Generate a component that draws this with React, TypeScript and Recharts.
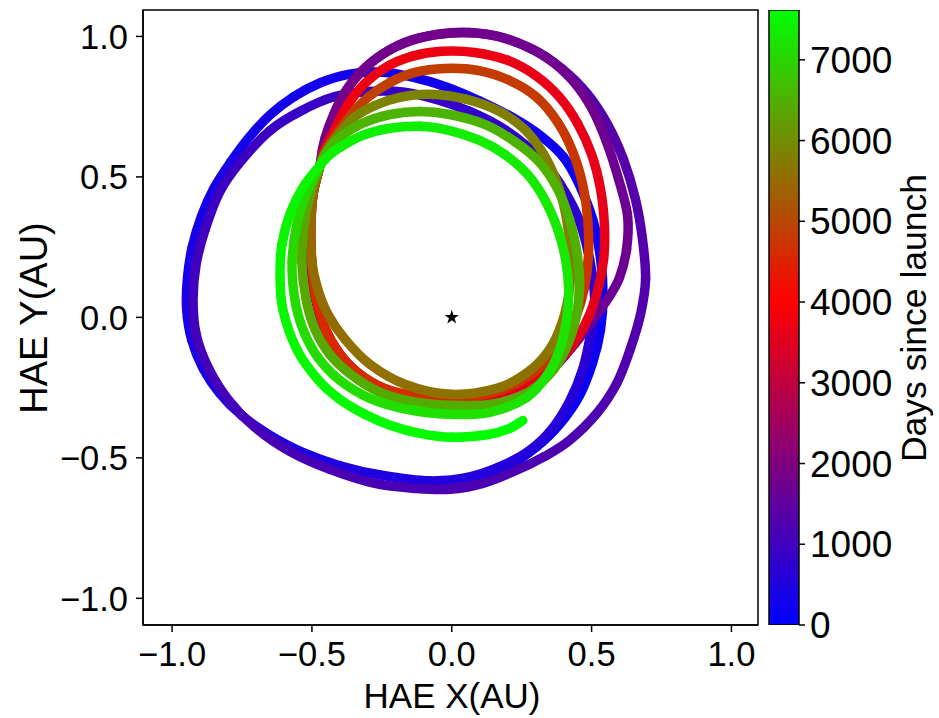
import React from 'react';
import { ComposedChart, Line, Scatter, XAxis, YAxis, ReferenceArea, BarChart, Bar } from 'recharts';

const FONT = '"Liberation Sans", Arial, Helvetica, sans-serif';

// HAE position (AU) traced along the trajectory, oldest first.
// Each track is one visible loop; loops that repeat on top of each other are drawn once.
const trackA = [
  [0.0, -0.59], [0.11, -0.575], [0.21, -0.525], [0.304, -0.46], [0.386, -0.38], [0.457, -0.278],
  [0.504, -0.16], [0.532, -0.043], [0.541, 0.08], [0.532, 0.21], [0.505, 0.345], [0.455, 0.475],
  [0.4, 0.57], [0.32, 0.645], [0.22, 0.71], [0.1, 0.77], [-0.02, 0.82], [-0.14, 0.855],
  [-0.26, 0.873], [-0.37, 0.865], [-0.47, 0.835], [-0.565, 0.785], [-0.65, 0.72], [-0.725, 0.64],
  [-0.79, 0.553], [-0.85, 0.46], [-0.895, 0.36], [-0.928, 0.25], [-0.945, 0.14], [-0.948, 0.03],
  [-0.93, -0.08], [-0.89, -0.18], [-0.83, -0.27], [-0.75, -0.35], [-0.65, -0.42], [-0.535, -0.48],
  [-0.4, -0.528], [-0.25, -0.562], [-0.079, -0.582],
];
const trackB = [
  [-0.079, -0.582], [0.064, -0.568], [0.182, -0.527], [0.279, -0.473], [0.357, -0.399], [0.421, -0.299],
  [0.468, -0.185], [0.496, -0.06], [0.511, 0.064], [0.493, 0.206], [0.457, 0.342], [0.404, 0.448],
  [0.339, 0.541], [0.261, 0.616], [0.171, 0.68], [0.064, 0.733], [-0.043, 0.772], [-0.168, 0.801],
  [-0.293, 0.804], [-0.418, 0.786], [-0.543, 0.733], [-0.65, 0.665], [-0.757, 0.552], [-0.829, 0.448],
  [-0.882, 0.313], [-0.914, 0.189], [-0.925, 0.064], [-0.914, -0.06], [-0.871, -0.178], [-0.8, -0.292],
  [-0.704, -0.391], [-0.579, -0.477], [-0.436, -0.541],
];
const trackC = [
  [-0.436, -0.541], [-0.275, -0.591], [-0.125, -0.609], [-0.007, -0.612], [0.111, -0.591], [0.232, -0.544],
  [0.332, -0.495], [0.421, -0.438], [0.52, -0.34], [0.59, -0.235], [0.638, -0.114], [0.675, 0.011],
  [0.693, 0.135], [0.682, 0.278], [0.657, 0.42], [0.614, 0.562], [0.557, 0.687], [0.486, 0.794],
  [0.396, 0.883], [0.296, 0.95], [0.182, 0.996], [0.064, 1.014], [-0.054, 1.007], [-0.168, 0.979],
  [-0.264, 0.925], [-0.343, 0.854], [-0.4, 0.769], [-0.439, 0.676], [-0.461, 0.605], [-0.471, 0.541],
];
const trackD = [
  [-0.471, 0.541], [-0.496, 0.438], [-0.507, 0.313], [-0.504, 0.189], [-0.489, 0.071], [-0.457, -0.036],
  [-0.4, -0.132], [-0.321, -0.21], [-0.221, -0.27], [-0.096, -0.306], [0.029, -0.324], [0.154, -0.317],
  [0.268, -0.274], [0.361, -0.185], [0.439, -0.096], [0.511, 0.0], [0.564, 0.075], [0.6, 0.142],
  [0.625, 0.242], [0.629, 0.359], [0.6, 0.48], [0.554, 0.623], [0.5, 0.745], [0.43, 0.845],
  [0.34, 0.925], [0.235, 0.978], [0.122, 1.008], [0.0, 1.012], [-0.112, 0.995], [-0.216, 0.955],
  [-0.305, 0.892], [-0.374, 0.812], [-0.421, 0.724], [-0.452, 0.64], [-0.471, 0.541],
];
const trackE = [
  [-0.471, 0.541], [-0.496, 0.438], [-0.504, 0.313], [-0.5, 0.189], [-0.486, 0.071], [-0.454, -0.036],
  [-0.404, -0.125], [-0.336, -0.199], [-0.239, -0.256], [-0.121, -0.288], [0.0, -0.295], [0.129, -0.281],
  [0.243, -0.246], [0.339, -0.189], [0.421, -0.114], [0.482, -0.014], [0.521, 0.093], [0.543, 0.206],
  [0.546, 0.324], [0.532, 0.456], [0.5, 0.58], [0.45, 0.69], [0.386, 0.783], [0.304, 0.858],
  [0.2, 0.915], [0.082, 0.943], [-0.036, 0.947], [-0.143, 0.929], [-0.236, 0.89], [-0.314, 0.829],
  [-0.375, 0.751], [-0.421, 0.662], [-0.454, 0.598], [-0.471, 0.541],
];
const trackF = [
  [-0.471, 0.541], [-0.496, 0.438], [-0.504, 0.313], [-0.5, 0.189], [-0.486, 0.071], [-0.454, -0.036],
  [-0.404, -0.125], [-0.336, -0.196], [-0.239, -0.253], [-0.121, -0.281], [0.0, -0.288], [0.125, -0.274],
  [0.232, -0.235], [0.321, -0.174], [0.393, -0.096], [0.443, 0.0], [0.475, 0.107], [0.489, 0.224],
  [0.486, 0.349], [0.468, 0.473], [0.432, 0.591], [0.379, 0.694], [0.304, 0.783], [0.207, 0.843],
  [0.093, 0.879], [-0.025, 0.886], [-0.132, 0.872], [-0.221, 0.836], [-0.3, 0.783], [-0.368, 0.712],
  [-0.425, 0.633], [-0.457, 0.58], [-0.471, 0.541],
];
const trackG = [
  [-0.471, 0.541], [-0.496, 0.438], [-0.504, 0.313], [-0.5, 0.196], [-0.479, 0.1], [-0.443, 0.011],
  [-0.382, -0.078], [-0.293, -0.167], [-0.168, -0.238], [-0.007, -0.274], [0.161, -0.253], [0.271, -0.196],
  [0.35, -0.114], [0.396, -0.014], [0.421, 0.1], [0.425, 0.224], [0.411, 0.349], [0.379, 0.473],
  [0.329, 0.58], [0.261, 0.669], [0.171, 0.733], [0.054, 0.776], [-0.079, 0.794], [-0.186, 0.783],
  [-0.275, 0.754], [-0.357, 0.705], [-0.418, 0.633], [-0.454, 0.58], [-0.471, 0.541],
];
const trackH = [
  [-0.471, 0.541], [-0.507, 0.438], [-0.529, 0.32], [-0.536, 0.196], [-0.521, 0.064], [-0.489, -0.043],
  [-0.436, -0.132], [-0.357, -0.206], [-0.257, -0.267], [-0.143, -0.299], [-0.007, -0.313], [0.136, -0.31],
  [0.261, -0.274], [0.35, -0.203], [0.407, -0.114], [0.443, -0.007], [0.457, 0.117], [0.446, 0.242],
  [0.421, 0.349], [0.379, 0.456], [0.314, 0.552], [0.225, 0.626], [0.118, 0.687], [-0.007, 0.722],
  [-0.114, 0.733], [-0.221, 0.722], [-0.321, 0.69], [-0.4, 0.641], [-0.446, 0.591], [-0.471, 0.541],
];
const trackI = [
  [-0.471, 0.541], [-0.518, 0.445], [-0.554, 0.331], [-0.571, 0.196], [-0.561, 0.064], [-0.532, -0.043],
  [-0.479, -0.142], [-0.4, -0.224], [-0.293, -0.288], [-0.161, -0.327], [-0.007, -0.345], [0.136, -0.338],
  [0.268, -0.285], [0.343, -0.203], [0.386, -0.114], [0.411, -0.007], [0.418, 0.1], [0.407, 0.206],
  [0.379, 0.313], [0.332, 0.42], [0.271, 0.509], [0.189, 0.58], [0.1, 0.63], [-0.007, 0.665],
  [-0.114, 0.68], [-0.221, 0.673], [-0.318, 0.648], [-0.4, 0.605], [-0.443, 0.573], [-0.471, 0.541],
];
const trackJ = [
  [-0.471, 0.541], [-0.532, 0.463], [-0.579, 0.367], [-0.607, 0.26], [-0.614, 0.153], [-0.604, 0.028],
  [-0.554, -0.114], [-0.479, -0.221], [-0.4, -0.292], [-0.311, -0.345], [-0.221, -0.384], [-0.114, -0.413],
  [0.0, -0.427], [0.136, -0.416], [0.207, -0.395], [0.254, -0.367],
];

const tracks = [trackA, trackB, trackC, trackD, trackE, trackF, trackG, trackH, trackI, trackJ];
const trackDays = [
  [120, 480], [500, 1150], [1150, 1500], [1550, 1850], [3350, 3800],
  [4500, 4950], [5450, 5950], [6350, 6600], [7050, 7450], [7450, 7617],
];

const DAY_MAX = 7617;
const RED_DAY = 4000;
const cbarTicks = [0, 1000, 2000, 3000, 4000, 5000, 6000, 7000];
const cbarData = [{ name: 'days', v: DAY_MAX }];
const axisTicks = [-1, -0.5, 0, 0.5, 1];
const sun = [{ x: 0, y: 0 }];

// blue -> red -> lime, as in the colour bar
function dayColor(d: number) {
  let r = 0, g = 0, b = 0;
  if (d <= RED_DAY) {
    const t = d / RED_DAY;
    r = 255 * t; b = 255 * (1 - t);
  } else {
    const t = Math.min(1, (d - RED_DAY) / (DAY_MAX - RED_DAY));
    r = 255 * (1 - t); g = 255 * t;
  }
  return `rgb(${Math.round(r)},${Math.round(g)},${Math.round(b)})`;
}

// Catmull-Rom through the points; the first and last point only steer the tangents,
// so neighbouring pieces join smoothly
function guidedCurve(context: any) {
  let pts: number[][] = [];
  return {
    areaStart() {},
    areaEnd() {},
    lineStart() { pts = []; },
    point(x: number, y: number) { pts.push([x, y]); },
    lineEnd() {
      const n = pts.length;
      if (n < 4) return;
      context.moveTo(pts[1][0], pts[1][1]);
      for (let k = 1; k < n - 2; k++) {
        const p0 = pts[k - 1], p1 = pts[k], p2 = pts[k + 1], p3 = pts[k + 2];
        context.bezierCurveTo(
          p1[0] + (p2[0] - p0[0]) / 6, p1[1] + (p2[1] - p0[1]) / 6,
          p2[0] - (p3[0] - p1[0]) / 6, p2[1] - (p3[1] - p1[1]) / 6,
          p2[0], p2[1],
        );
      }
    },
  };
}

const CHUNK = 3;
const pieces = tracks.flatMap((pts, ti) => {
  const [d0, d1] = trackDays[ti];
  const n = pts.length;
  const prev = ti > 0 ? tracks[ti - 1][tracks[ti - 1].length - 2] : pts[0];
  const next = ti < tracks.length - 1 ? tracks[ti + 1][1] : pts[n - 1];
  const ext = [prev, ...pts, next];
  const out: { id: string; data: { x: number; y: number }[]; color: string }[] = [];
  for (let i = 0; i < n - 1; i += CHUNK) {
    const j = Math.min(i + CHUNK, n - 1);
    const f = (i + j) / 2 / (n - 1);
    out.push({
      id: `t${ti}-${i}`,
      data: ext.slice(i, j + 3).map(([x, y]) => ({ x, y })),
      color: dayColor(d0 + (d1 - d0) * f),
    });
  }
  return out;
});

const fmt = (v: number) => v.toFixed(1).replace('-', '\u2212');

const lineStyle = { stroke: '#000', strokeWidth: 1.5 };
const tickFont = { fontSize: 34.5, fill: '#000', fontFamily: FONT };
const cbarFont = { fontSize: 37, fill: '#000', fontFamily: FONT };

const XTitle = () => (
  <text x={452} y={708} textAnchor="middle" fontSize={35} fontFamily={FONT} fill="#000">HAE X(AU)</text>
);
const YTitle = () => (
  <text transform="translate(47,318) rotate(-90)" textAnchor="middle" fontSize={38} fontFamily={FONT} fill="#000">
    HAE Y(AU)
  </text>
);
const CbarTitle = () => (
  <text transform="translate(166,318) rotate(-90)" textAnchor="middle" fontSize={35.5} fontFamily={FONT} fill="#000">
    Days since launch
  </text>
);

export default function App() {
  return (
    <div style={{ position: 'absolute', left: 0, top: 0, width: 939, height: 718, background: '#fff' }}>
      <svg width={0} height={0} style={{ position: 'absolute' }}>
        <defs>
          <linearGradient id="dayScale" x1="0" y1="1" x2="0" y2="0">
            <stop offset="0" stopColor="#0000ff" />
            <stop offset={RED_DAY / DAY_MAX} stopColor="#ff0000" />
            <stop offset="1" stopColor="#00ff00" />
          </linearGradient>
        </defs>
      </svg>
      <div style={{ position: 'absolute', left: 0, top: 0 }}>
        <ComposedChart width={760} height={718} margin={{ top: 10, right: 2, bottom: 0, left: 0 }}>
          <XAxis
            type="number"
            dataKey="x"
            domain={[-1.104, 1.095]}
            allowDataOverflow
            ticks={axisTicks}
            tickFormatter={fmt}
            height={93}
            tick={tickFont}
            tickSize={7}
            tickMargin={10}
            axisLine={lineStyle}
            tickLine={lineStyle}
            label={<XTitle />}
          />
          <YAxis
            type="number"
            dataKey="y"
            domain={[-1.095, 1.094]}
            allowDataOverflow
            ticks={axisTicks}
            tickFormatter={fmt}
            width={143}
            tick={tickFont}
            tickSize={7}
            tickMargin={8}
            axisLine={lineStyle}
            tickLine={lineStyle}
            label={<YTitle />}
          />
          <ReferenceArea x1={-1.104} x2={1.095} y1={-1.095} y2={1.094} fill="none" stroke="#000" strokeWidth={1.5} ifOverflow="visible" />
          {pieces.map((p) => (
            <Line
              key={p.id}
              data={p.data}
              dataKey="y"
              type={guidedCurve as any}
              stroke={p.color}
              strokeWidth={9.5}
              strokeLinecap="round"
              strokeLinejoin="round"
              dot={false}
              activeDot={false}
              isAnimationActive={false}
            />
          ))}
          <Scatter data={sun} dataKey="y" shape="star" fill="#000" isAnimationActive={false} />
        </ComposedChart>
      </div>
      <div style={{ position: 'absolute', left: 760, top: 0 }}>
        <BarChart width={179} height={718} data={cbarData} margin={{ top: 10, right: 0, bottom: 93, left: 9 }} barCategoryGap={0}>
          <XAxis dataKey="name" hide />
          <YAxis
            orientation="right"
            type="number"
            domain={[0, DAY_MAX]}
            allowDataOverflow
            ticks={cbarTicks}
            width={140}
            tick={cbarFont}
            tickSize={6}
            tickMargin={5}
            axisLine={false}
            tickLine={lineStyle}
            label={<CbarTitle />}
          />
          <Bar dataKey="v" fill="url(#dayScale)" stroke="#000" strokeWidth={1.5} isAnimationActive={false} />
        </BarChart>
      </div>
    </div>
  );
}
